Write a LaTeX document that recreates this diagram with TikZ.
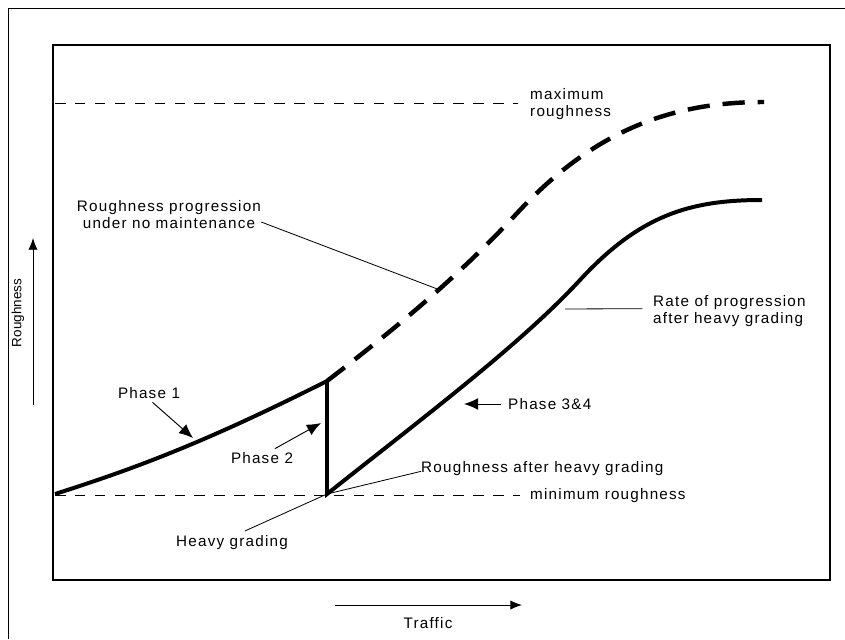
\documentclass[tikz,border=0pt]{standalone}
\usepackage{fontspec}
\setmainfont{Liberation Sans}[LetterSpace=8]
\newfontfamily\axisfont{Liberation Sans}
\usetikzlibrary{arrows.meta}

\begin{document}
\begin{tikzpicture}[x=0.03cm,y=-0.03cm,
            every node/.style={font=\fontsize{13}{14.5}\selectfont, inner sep=0pt},
            lbl/.style={align=left, anchor=west},
            curve/.style={line width=3.4pt},
            nomaint/.style={line width=3.8pt, dash pattern=on 19pt off 11pt},
            guide/.style={line width=0.8pt, dash pattern=on 9pt off 8pt},
            leader/.style={line width=0.7pt},
            pointer/.style={line width=0.8pt, -{Latex[length=10pt,width=8pt]}},
            phase/.style={line width=0.8pt, -{Latex[length=12pt,width=10pt]}},
            ]
            \useasboundingbox (0,0) rectangle (845,639);

            % frames
            \draw[line width=0.8pt] (8,639) -- (8,8) -- (845,8);
            \draw[line width=1.2pt] (53,45) rectangle (830,580);

            % points on the curves
            \coordinate (start) at (55,494);
            \coordinate (peak) at (327,381);
            \coordinate (grade) at (327,494);
            \coordinate (bend) at (580,280);
            \coordinate (level) at (762,200);
            \coordinate (swing) at (520,210);
            \coordinate (top) at (764,102);
            \coordinate (maxleft) at (55,103);
            \coordinate (maxright) at (518,103);
            \coordinate (minleft) at (55,495);
            \coordinate (minright) at (520,495);

            % labels
            \node[lbl] (maxr) at (530,104) {maximum\\roughness};
            \node[lbl] (minr) at (530,496) {minimum roughness};
            \node[align=center] (nomaint) at (169,215) {Roughness progression\\under no maintenance};
            \node[lbl] (rate) at (653,311) {Rate of progression\\after heavy grading};
            \node (ph1) at (149,393) {Phase 1};
            \node (ph2) at (262,458) {Phase 2};
            \node[lbl] (ph34) at (508,404) {Phase 3\&4};
            \node[lbl] (after) at (421,469) {Roughness after heavy grading};
            \node (heavy) at (232,543) {Heavy grading};
            \node (traffic) at (428,623) {Traffic};
            \node[rotate=90, font=\axisfont\fontsize{11.5}{13}\selectfont] (rough) at (18,313) {Roughness};

            % limits
            \draw[guide] (maxleft) -- (maxright);
            \draw[guide] (minleft) -- (minright);

            % roughness curves
            \draw[curve] (start) .. controls (130,470) and (200,445) .. (peak) -- (grade)
                .. controls (420,420) and (520,345) .. (bend)
                .. controls (640,215) and (690,200) .. (level);
            \draw[nomaint] (peak) .. controls (400,325) and (460,275) .. (swing)
                .. controls (600,125) and (680,102) .. (top);

            % leaders
            \coordinate (onnomaint) at (440,290);
            \coordinate (onrate) at (565,309);
            \coordinate (ph1tip) at (193,438);
            \coordinate (ph2tip) at (321,423);
            \coordinate (ph34tip) at (464,404);
            \draw[leader] ([yshift=-6pt]nomaint.east) -- (onnomaint);
            \draw[leader] ([xshift=-9pt,yshift=2pt]rate.west) -- (onrate);
            \draw[leader] ([yshift=-2pt]after.west) -- (grade);
            \draw[leader] ([xshift=11pt,yshift=4pt]heavy.north) -- (grade);
            \draw[phase] ([xshift=3pt,yshift=-3pt]ph1.south) -- (ph1tip);
            \draw[phase] ([xshift=11pt,yshift=3pt]ph2.north) -- (ph2tip);
            \draw[phase] ([xshift=-6pt]ph34.west) -- (ph34tip);

            % axes
            \coordinate (yfoot) at (33,405);
            \coordinate (yhead) at (33,238);
            \coordinate (xfoot) at (335,605);
            \coordinate (xhead) at (522,605);
            \draw[pointer] (yfoot) -- (yhead);
            \draw[pointer] (xfoot) -- (xhead);
\end{tikzpicture}
\end{document}
